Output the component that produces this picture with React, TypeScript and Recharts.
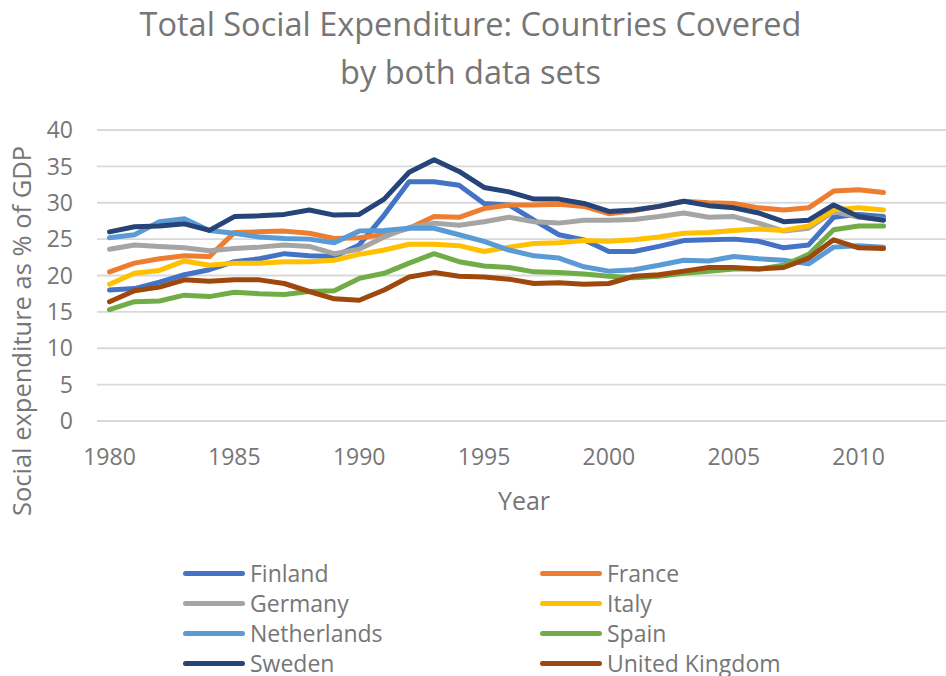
import { CartesianGrid, Line, LineChart, XAxis, YAxis } from "recharts";

const YEARS = [
  1980, 1981, 1982, 1983, 1984, 1985, 1986, 1987, 1988, 1989,
  1990, 1991, 1992, 1993, 1994, 1995, 1996, 1997, 1998, 1999,
  2000, 2001, 2002, 2003, 2004, 2005, 2006, 2007, 2008, 2009,
  2010, 2011, 2012, 2013,
];

// values 1980..2011
const finland = [18.0, 18.2, 19.1, 20.1, 20.8, 21.9, 22.3, 23.0, 22.7, 22.6, 24.2, 28.3, 32.9, 32.9, 32.4, 29.9, 29.7, 27.6, 25.6, 24.9, 23.3, 23.3, 24.0, 24.8, 24.9, 25.0, 24.7, 23.8, 24.2, 28.0, 28.4, 28.1];
const france = [20.5, 21.7, 22.3, 22.7, 22.6, 25.9, 26.0, 26.1, 25.8, 25.1, 25.2, 25.6, 26.5, 28.1, 28.0, 29.2, 29.7, 29.7, 29.8, 29.5, 28.5, 28.9, 29.5, 30.2, 30.0, 29.9, 29.3, 29.0, 29.3, 31.6, 31.8, 31.4];
const germany = [23.6, 24.2, 24.0, 23.8, 23.4, 23.7, 23.9, 24.2, 24.0, 23.0, 23.6, 25.3, 26.6, 27.2, 26.9, 27.4, 28.0, 27.4, 27.2, 27.6, 27.6, 27.7, 28.1, 28.6, 28.0, 28.1, 27.2, 26.1, 26.5, 28.8, 28.0, 27.7];
const italy = [18.8, 20.3, 20.7, 22.0, 21.4, 21.7, 21.7, 21.9, 21.9, 22.1, 22.9, 23.5, 24.3, 24.3, 24.1, 23.3, 23.9, 24.4, 24.5, 24.8, 24.7, 24.9, 25.3, 25.8, 25.9, 26.2, 26.4, 26.2, 26.8, 29.0, 29.3, 29.0];
const netherlands = [25.2, 25.6, 27.4, 27.8, 26.2, 25.8, 25.3, 25.1, 25.0, 24.5, 26.1, 26.2, 26.5, 26.5, 25.6, 24.7, 23.5, 22.7, 22.4, 21.2, 20.6, 20.8, 21.4, 22.1, 22.0, 22.6, 22.3, 22.1, 21.6, 23.9, 24.1, 23.9];
const spain = [15.3, 16.4, 16.5, 17.3, 17.1, 17.7, 17.5, 17.4, 17.8, 17.9, 19.6, 20.3, 21.7, 23.0, 21.9, 21.3, 21.1, 20.5, 20.4, 20.2, 19.9, 19.7, 19.9, 20.3, 20.6, 20.9, 20.9, 21.4, 22.9, 26.3, 26.8, 26.8];
const sweden = [26.0, 26.7, 26.8, 27.1, 26.2, 28.1, 28.2, 28.4, 29.0, 28.3, 28.4, 30.5, 34.2, 35.9, 34.3, 32.1, 31.5, 30.5, 30.5, 29.9, 28.8, 29.0, 29.5, 30.2, 29.6, 29.3, 28.6, 27.4, 27.6, 29.7, 28.1, 27.6];
const unitedKingdom = [16.4, 17.9, 18.4, 19.4, 19.2, 19.4, 19.4, 18.9, 17.8, 16.8, 16.6, 18.0, 19.8, 20.4, 19.9, 19.8, 19.5, 18.9, 19.0, 18.8, 18.9, 19.9, 20.1, 20.6, 21.1, 21.1, 20.9, 21.1, 22.4, 24.9, 23.8, 23.7];

const Y_TICKS = [0, 5, 10, 15, 20, 25, 30, 35, 40];

const SERIES = [
  { key: "Finland", values: finland, color: "#4472C4" },
  { key: "France", values: france, color: "#ED7D31" },
  { key: "Germany", values: germany, color: "#A5A5A5" },
  { key: "Italy", values: italy, color: "#FFC000" },
  { key: "Netherlands", values: netherlands, color: "#5B9BD5" },
  { key: "Spain", values: spain, color: "#70AD47" },
  { key: "Sweden", values: sweden, color: "#264478" },
  { key: "United Kingdom", values: unitedKingdom, color: "#9E480E" },
];

const FONT = '"Open Sans", "Noto Sans", sans-serif';
const TEXT = "#767676";

const data = YEARS.map((year, i) => {
  const row: Record<string, number | null> = { year };
  SERIES.forEach((s) => {
    row[s.key] = i < s.values.length ? s.values[i] : null;
  });
  return row;
});

export default function App() {
  return (
    <div
      style={{
        position: "absolute",
        left: 0,
        top: 0,
        width: 946,
        height: 676,
        overflow: "hidden",
        background: "#fff",
        fontFamily: FONT,
        color: TEXT,
      }}
    >
      <div style={{ position: "absolute", left: 0, width: 941, top: 0, textAlign: "center", fontSize: 32.5, lineHeight: "48px" }}>
        <div>Total Social Expenditure: Countries Covered</div>
        <div>by both data sets</div>
      </div>

      <LineChart
        width={946}
        height={676}
        data={data}
        margin={{ top: 130, right: 0, bottom: 195, left: 0 }}
        style={{ fontFamily: FONT }}
      >
        <CartesianGrid vertical={false} stroke="#d9d9d9" strokeWidth={1.8} />
        <XAxis
          dataKey="year"
          interval={4}
          padding={{ left: 12.5, right: 12.5 }}
          axisLine={false}
          tickLine={false}
          tickSize={0}
          tickMargin={28}
          height={60}
          tick={{ fill: TEXT, fontSize: 23 }}
        />
        <YAxis
          domain={[0, 40]}
          ticks={Y_TICKS}
          axisLine={false}
          tickLine={false}
          tickSize={0}
          tickMargin={24}
          width={97}
          tick={{ fill: TEXT, fontSize: 23 }}
        />
        {SERIES.map((s) => (
          <Line
            key={s.key}
            type="linear"
            dataKey={s.key}
            stroke={s.color}
            strokeWidth={5}
            strokeLinejoin="round"
            strokeLinecap="round"
            dot={false}
            activeDot={false}
            isAnimationActive={false}
          />
        ))}
      </LineChart>

      <div
        style={{
          position: "absolute",
          left: 21,
          top: 331,
          transform: "translate(-50%, -50%) rotate(-90deg)",
          whiteSpace: "nowrap",
          fontSize: 25.5,
        }}
      >
        Social expenditure as % of GDP
      </div>
      <div style={{ position: "absolute", left: 524, top: 500, transform: "translate(-50%, -50%)", fontSize: 25 }}>
        Year
      </div>

      {SERIES.map((s, i) => {
        const col = i % 2;
        const row = Math.floor(i / 2);
        return (
          <div
            key={s.key}
            style={{
              position: "absolute",
              left: col === 0 ? 183 : 540,
              top: 573 + row * 30,
              transform: "translateY(-50%)",
              display: "flex",
              alignItems: "center",
              fontSize: 23,
              whiteSpace: "nowrap",
            }}
          >
            <span style={{ display: "inline-block", width: 62, height: 5, borderRadius: 3, background: s.color, marginRight: 5 }} />
            {s.key}
          </div>
        );
      })}
    </div>
  );
}
